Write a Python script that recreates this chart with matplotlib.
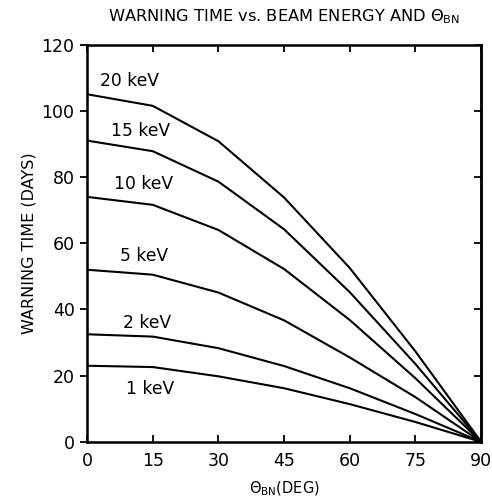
import matplotlib
matplotlib.use("Agg")
import matplotlib.pyplot as plt

plt.rcParams["font.family"] = ["DejaVu Sans"]
plt.rcParams["mathtext.default"] = "regular"

angles = [0, 15, 30, 45, 60, 75, 90]
energies = ["1 keV", "2 keV", "5 keV", "10 keV", "15 keV", "20 keV"]
warn_1 = [23.0, 22.6, 19.8, 16.2, 11.4, 6.0, 0]
warn_2 = [32.5, 31.8, 28.3, 22.9, 16.2, 8.4, 0]
warn_5 = [52.0, 50.5, 45.1, 36.7, 25.5, 13.5, 0]
warn_10 = [74.0, 71.6, 64.0, 52.2, 36.8, 19.2, 0]
warn_15 = [91.0, 87.8, 78.6, 64.2, 45.2, 23.5, 0]
warn_20 = [105.0, 101.5, 90.8, 73.8, 52.5, 27.3, 0]
series = [warn_1, warn_2, warn_5, warn_10, warn_15, warn_20]

label_x = [14.4, 13.7, 12.9, 12.8, 12.1, 9.8]
label_y = [16, 36, 56, 78, 94, 109]

fig = plt.figure(figsize=(4.92, 5.01), dpi=100)
ax = fig.add_axes([0.177, 0.118, 0.801, 0.793])

for vals, name, lx, ly in zip(series, energies, label_x, label_y):
    ax.plot(angles, vals, color="black", lw=1.5)
    ax.text(lx, ly, name, ha="center", va="center", fontsize=12.3)

ax.set_xlim(0, 90)
ax.set_ylim(0, 120)
ax.set_xticks(range(0, 91, 15))
ax.set_yticks(range(0, 121, 20))
ax.tick_params(axis="x", direction="in", length=5, width=1.3,
               labelsize=12.5, top=True, pad=7)
ax.tick_params(axis="y", direction="out", length=5, width=1.3,
               labelsize=12.5, pad=4)
for s in ax.spines.values():
    s.set_linewidth(1.8)

# right side ticks point inward
ax2 = ax.twinx()
ax2.set_ylim(0, 120)
ax2.set_yticks(range(0, 121, 20))
ax2.tick_params(direction="in", length=5, width=1.3, labelright=False)
ax2.spines["right"].set_linewidth(1.8)

ax.set_xlabel(r"$\Theta_{BN}$(DEG)", fontsize=10.5, labelpad=7)
ax.set_ylabel("WARNING TIME (DAYS)", fontsize=11.5, labelpad=4)
ax.set_title(r"WARNING TIME vs. BEAM ENERGY AND $\Theta_{BN}$",
             fontsize=11.7, pad=17)

fig.savefig("out.png", dpi=100)
